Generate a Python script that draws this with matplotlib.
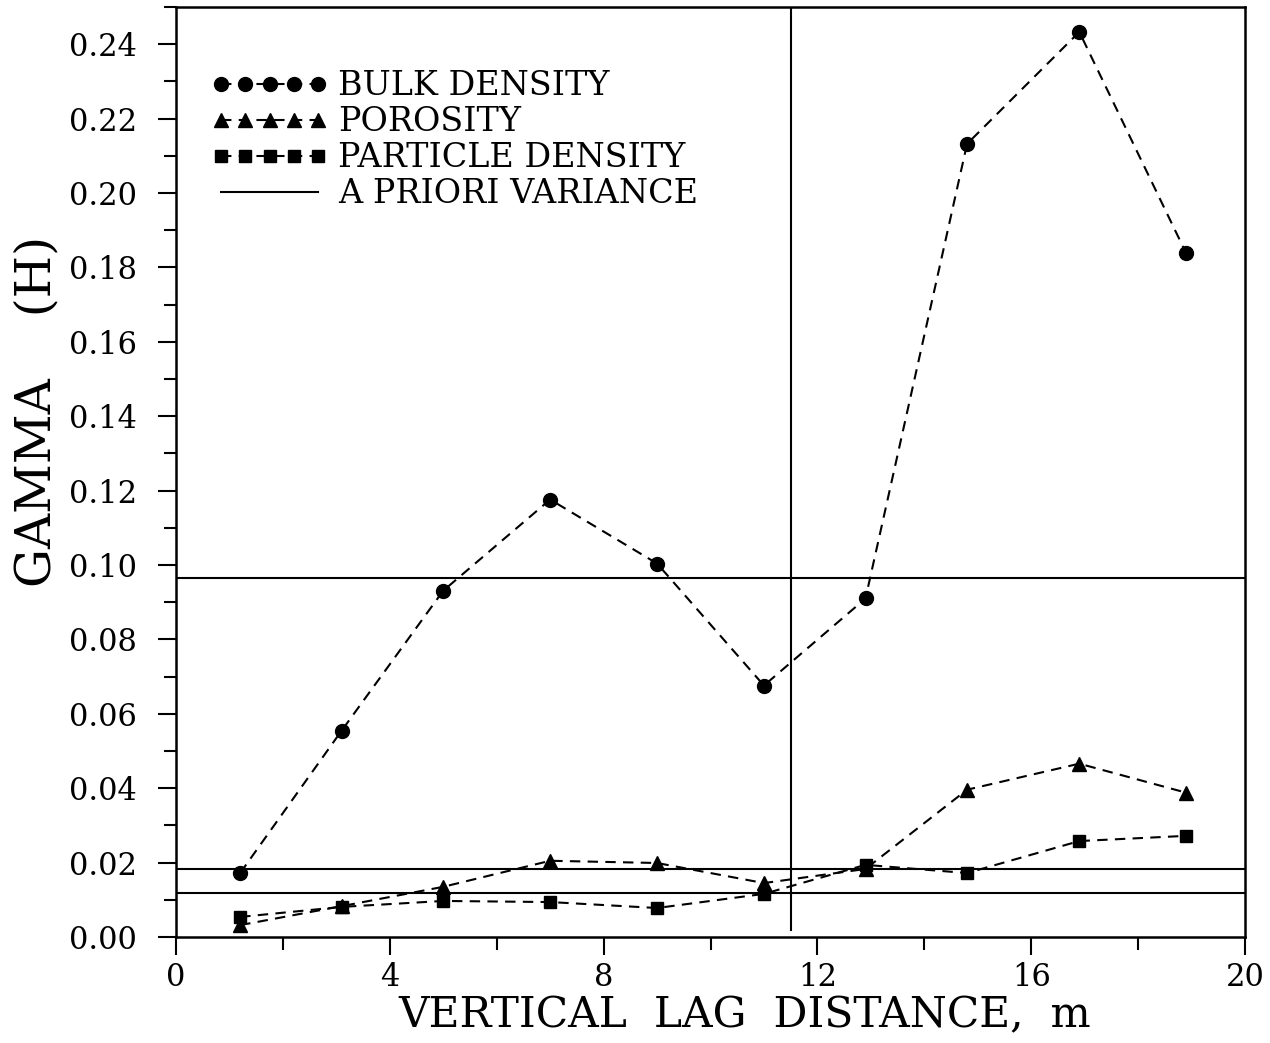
import numpy as np
import matplotlib
matplotlib.use('Agg')
import matplotlib.pyplot as plt
from matplotlib.ticker import MultipleLocator, FormatStrFormatter

# lag distances (m) and semivariogram values
lag = [1.2, 3.1, 5.0, 7.0, 9.0, 11.0, 12.9, 14.8, 16.9, 18.9]
bulk = [0.0172, 0.0555, 0.0931, 0.1176, 0.1004, 0.0676, 0.0910, 0.2132, 0.2433, 0.1838]
poro = [0.0032, 0.0083, 0.0135, 0.0205, 0.0199, 0.0145, 0.0183, 0.0396, 0.0466, 0.0388]
part = [0.0054, 0.0081, 0.0097, 0.0094, 0.0078, 0.0116, 0.0194, 0.0172, 0.0258, 0.0272]

# a priori variances (horizontal lines) and the vertical marker
apriori = [0.0966, 0.0183, 0.0118]
vline_x = 11.5

plt.rcParams['font.family'] = 'DejaVu Serif'

fig = plt.figure(figsize=(12.7, 10.43), dpi=100)
ax = fig.add_axes([0.1386, 0.1016, 0.8417, 0.8917])

dash = (0, (5, 3.5))
ax.plot(lag, bulk, color='black', lw=1.5, ls=dash, marker='o', ms=10,
        label='BULK DENSITY')
ax.plot(lag, poro, color='black', lw=1.5, ls=dash, marker='^', ms=10,
        label='POROSITY')
ax.plot(lag, part, color='black', lw=1.5, ls=dash, marker='s', ms=9,
        label='PARTICLE DENSITY')
for i, v in enumerate(apriori):
    ax.axhline(v, color='black', lw=1.5,
               label='A PRIORI VARIANCE' if i == 0 else None)
ax.axvline(vline_x, ymin=0.008, color='black', lw=1.5)

ax.set_xlim(0, 20)
ax.set_ylim(0, 0.25)
ax.xaxis.set_major_locator(MultipleLocator(4))
ax.xaxis.set_minor_locator(MultipleLocator(2))
ax.yaxis.set_minor_locator(MultipleLocator(0.01))
ax.set_yticks(np.arange(0, 0.241, 0.02))
ax.yaxis.set_major_formatter(FormatStrFormatter('%.2f'))

ax.tick_params(which='major', length=13, width=1.5, labelsize=22)
ax.tick_params(which='minor', length=9, width=1.5)
ax.tick_params(axis='y', which='major', pad=15)
ax.tick_params(axis='x', which='major', pad=5)
for s in ax.spines.values():
    s.set_linewidth(1.8)

ax.set_xlabel('VERTICAL  LAG  DISTANCE,  m', fontsize=30.5)
ax.xaxis.set_label_coords(0.532, -0.062)
ax.set_ylabel('GAMMA    (H)', fontsize=35)
ax.yaxis.set_label_coords(-0.108, 0.565)

ax.legend(loc='upper left', bbox_to_anchor=(0.033, 0.932), frameon=False,
          numpoints=5, fontsize=24, handlelength=3.5, handletextpad=0.3,
          labelspacing=0.12, borderpad=0, borderaxespad=0)

fig.savefig('out.png', dpi=100)
